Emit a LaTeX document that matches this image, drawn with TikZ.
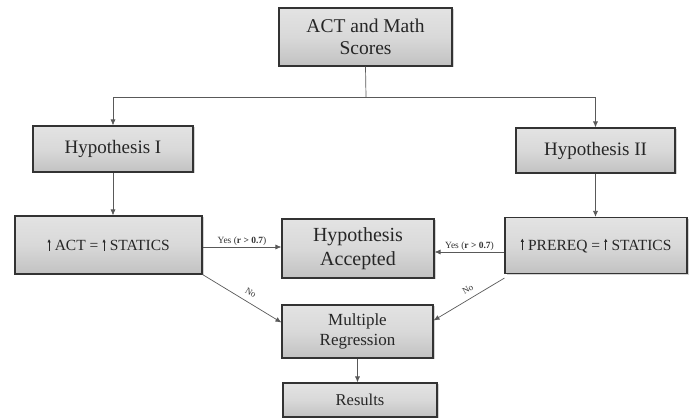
\documentclass[tikz,border=0pt]{standalone}
\usepackage{fontspec}
\setmainfont{Liberation Serif}
\newfontfamily\tms{Liberation Serif}
\usetikzlibrary{arrows.meta,shadows}
\tikzset{
  box/.style={draw=black!80, line width=1.1pt, top color=gray!22, bottom color=gray!48,
    middle color=gray!30, drop shadow={opacity=0.35, shadow xshift=1.5pt, shadow yshift=-1.5pt},
    align=center, inner sep=2pt, text=black!85},
  conn/.style={draw=black!65, line width=0.7pt, -{Latex[length=6pt,width=5pt]}},
  lbl/.style={font=\tms\fontsize{9.5}{10}\selectfont, text=black!80, inner sep=1.5pt},
  nolbl/.style={font=\tms\fontsize{9}{10}\selectfont, text=black!80, inner sep=0pt},
  uparr/.style={line width=0.9pt, draw=black!85, -{Latex[length=3.5pt,width=3.5pt]}},
}
\newcommand{\up}{\tikz[baseline=0pt]\draw[uparr] (0,0) -- (0,12pt);}
\begin{document}
\begin{tikzpicture}[x=1pt,y=-1pt]
\useasboundingbox (0,0) rectangle (689,419);
\node[box, minimum width=173pt, minimum height=58pt, font=\tms\fontsize{19.5}{22}\selectfont] (top) at (365.5,37) {ACT and Math\\Scores};
\node[box, minimum width=160pt, minimum height=46pt, font=\tms\fontsize{19}{22}\selectfont] (h1) at (113,149) {Hypothesis I};
\node[box, minimum width=159pt, minimum height=45pt, font=\tms\fontsize{19}{22}\selectfont] (h2) at (595.5,150.5) {Hypothesis II};
\node[box, minimum width=187pt, minimum height=58pt, font=\tms\fontsize{15.5}{18}\selectfont] (act) at (108.5,245) {\up\hspace{4pt}ACT = \up\hspace{4pt}STATICS};
\node[box, minimum width=152pt, minimum height=59pt, font=\tms\fontsize{20}{24}\selectfont] (acc) at (358,248.5) {Hypothesis\\Accepted};
\node[box, minimum width=182pt, minimum height=56pt, font=\tms\fontsize{15.5}{18}\selectfont] (pre) at (596,245.5) {\up\hspace{4pt}PREREQ = \up\hspace{4pt}STATICS};
\node[box, minimum width=151pt, minimum height=53pt, font=\tms\fontsize{17}{20}\selectfont] (mr) at (357.5,331.5) {Multiple\\Regression};
\node[box, minimum width=154pt, minimum height=34pt, font=\tms\fontsize{16.5}{19}\selectfont] (res) at (360,400) {Results};
\coordinate (j) at (366,97);
\draw[draw=black!65, line width=0.7pt] (top.south) -- (j);
\draw[conn] (j) -| (h1.north);
\draw[conn] (j) -| (h2.north);
\draw[conn] (h1.south) -- (h1.south |- act.north);
\draw[conn] (h2.south) -- (h2.south |- pre.north);
\draw[conn] ([yshift=-2pt]act.east) -- node[lbl, above] {Yes (\textbf{r > 0.7})} ([yshift=-2pt]act.east -| acc.west);
\draw[conn] ([yshift=-6.5pt]pre.west) -- node[lbl, above] {Yes (\textbf{r > 0.7})} ([yshift=-6.5pt]pre.west -| acc.east);
\draw[conn] (act.south east) -- node[nolbl, above=6pt, sloped, pos=0.55] {No} ([yshift=9pt]mr.west);
\draw[conn] ([yshift=-4pt]pre.south west) -- node[nolbl, above=6pt, sloped, pos=0.45] {No} ([yshift=11pt]mr.east);
\draw[conn] (mr.south) -- (mr.south |- res.north);
\end{tikzpicture}
\end{document}
